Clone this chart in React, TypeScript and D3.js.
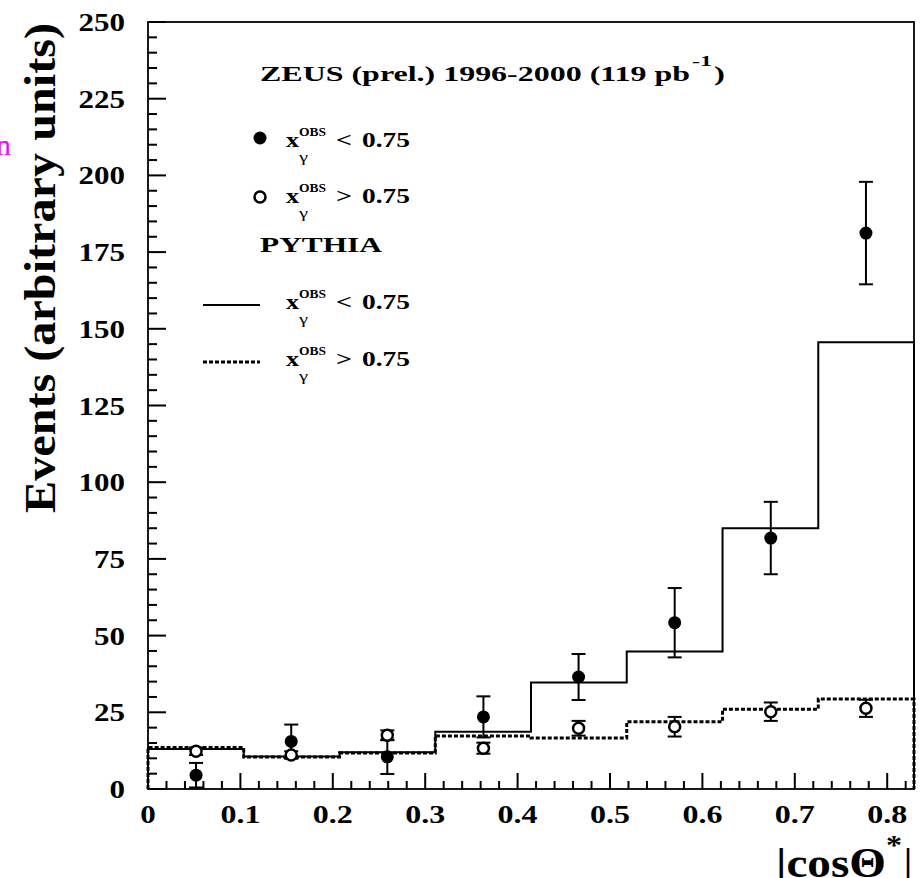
import React from "react";
import * as d3 from "d3";

// ---- data ----
const binEdges = [0, 0.1036, 0.2073, 0.3109, 0.4145, 0.5181, 0.6218, 0.7254, 0.829];
const binCenters = [0.052, 0.155, 0.259, 0.363, 0.466, 0.57, 0.674, 0.777];
const dataLow = [4.5, 15.5, 10.5, 23.5, 36.5, 54.2, 81.8, 181.2];
const dataLowErr = [4, 5.5, 5.6, 6.7, 7.5, 11.3, 11.8, 16.7];
const dataHigh = [12.3, 11.1, 17.5, 13.3, 19.8, 20.3, 25.2, 26.3];
const dataHighErr = [1.2, 1.2, 1.6, 1.8, 2.4, 3.2, 3.0, 2.8];
const pythiaLow = [13, 10.6, 12, 18.7, 34.7, 44.8, 85, 145.6];
const pythiaHigh = [13.5, 10.4, 11.7, 17.3, 16.6, 21.9, 26, 29.3];
const yTicks = [0, 25, 50, 75, 100, 125, 150, 175, 200, 225, 250];
const xTicks = [0, 0.1, 0.2, 0.3, 0.4, 0.5, 0.6, 0.7, 0.8];

const W = 920;
const H = 878;
const L = 148, R = 914, T = 22, B = 789;
const FONT = "Liberation Serif, Times New Roman, Times, serif";

const x = d3.scaleLinear().domain([0, 0.829]).range([L, R]);
const y = d3.scaleLinear().domain([0, 250]).range([B, T]);

function histPath(vals: number[]) {
  const pts: [number, number][] = [[x(binEdges[0]), y(0)]];
  vals.forEach((v, i) => {
    pts.push([x(binEdges[i]), y(v)]);
    pts.push([x(binEdges[i + 1]), y(v)]);
  });
  pts.push([x(binEdges[binEdges.length - 1]), y(0)]);
  return d3.line()(pts) as string;
}

// text with a fixed rendered width
function TL({ x: tx, y: ty, size, w, anchor = "start", children, bold = true, fill = "#000" }: any) {
  return (
    <text
      x={tx}
      y={ty}
      style={{ fontFamily: FONT }}
      fontWeight={bold ? "bold" : "normal"}
      fontSize={size}
      textAnchor={anchor}
      fill={fill}
      textLength={w}
      lengthAdjust="spacingAndGlyphs"
    >
      {children}
    </text>
  );
}

function XObs({ base, sign }: { base: number; sign: string }) {
  return (
    <g>
      <TL x={286} y={base} size={20} w={13}>x</TL>
      <TL x={299} y={base - 11} size={13} w={27}>OBS</TL>
      <TL x={299} y={base + 15} size={14} w={9} bold={false}>γ</TL>
      <TL x={336} y={base} size={22} w={16}>{sign}</TL>
      <TL x={362} y={base} size={22} w={48}>0.75</TL>
    </g>
  );
}

export default function App() {
  const minorY = d3.range(0, 251, 5).filter((v) => v % 25 !== 0);
  const minorX = d3.range(0, 0.83, 0.02).filter((v) => Math.abs(v * 10 - Math.round(v * 10)) > 1e-6);
  return (
    <svg width={W} height={H} style={{ position: "absolute", left: 0, top: 0, background: "#fff" }}>
      <rect x={0} y={0} width={W} height={H} fill="#fff" />
      {/* stray magenta text at left edge */}
      <text x={11} y={155} style={{ fontFamily: FONT }} fontSize={30} fill="#ff00ff" textAnchor="end">n</text>

      {/* histograms */}
      <path d={histPath(pythiaLow)} fill="none" stroke="#000" strokeWidth={2} />
      <path d={histPath(pythiaHigh)} fill="none" stroke="#000" strokeWidth={3} strokeDasharray="4,2" />

      {/* frame */}
      <rect x={L} y={T} width={R - L} height={B - T} fill="none" stroke="#000" strokeWidth={1.8} />

      {/* y ticks */}
      {yTicks.map((v) => (
        <line key={"ym" + v} x1={L} x2={L + 18} y1={y(v)} y2={y(v)} stroke="#000" strokeWidth={2} />
      ))}
      {minorY.map((v) => (
        <line key={"yn" + v} x1={L} x2={L + 9} y1={y(v)} y2={y(v)} stroke="#000" strokeWidth={2} />
      ))}
      {yTicks.map((v) => (
        <TL key={"yl" + v} x={125} y={y(v) + 9} size={25} anchor="end" w={String(v).length * 15.5}>{v}</TL>
      ))}

      {/* x ticks */}
      {xTicks.map((v) => (
        <line key={"xm" + v} x1={x(v)} x2={x(v)} y1={B} y2={B - 16} stroke="#000" strokeWidth={2} />
      ))}
      {minorX.map((v, i) => (
        <line key={"xn" + i} x1={x(v)} x2={x(v)} y1={B} y2={B - 8} stroke="#000" strokeWidth={2} />
      ))}
      {xTicks.map((v) => (
        <TL key={"xl" + v} x={x(v)} y={823} size={26} anchor="middle" w={v === 0 ? 15.5 : 40}>
          {v === 0 ? "0" : d3.format(".1f")(v)}
        </TL>
      ))}

      {/* error bars */}
      {binCenters.map((c, i) => (
        <g key={"eh" + i} stroke="#000" strokeWidth={2}>
          <line x1={x(c)} x2={x(c)} y1={y(dataHigh[i] - dataHighErr[i])} y2={y(dataHigh[i] + dataHighErr[i])} />
          <line x1={x(c) - 7} x2={x(c) + 7} y1={y(dataHigh[i] - dataHighErr[i])} y2={y(dataHigh[i] - dataHighErr[i])} />
          <line x1={x(c) - 7} x2={x(c) + 7} y1={y(dataHigh[i] + dataHighErr[i])} y2={y(dataHigh[i] + dataHighErr[i])} />
        </g>
      ))}
      {binCenters.map((c, i) => (
        <g key={"el" + i} stroke="#000" strokeWidth={2}>
          <line x1={x(c)} x2={x(c)} y1={y(Math.max(0, dataLow[i] - dataLowErr[i]))} y2={y(dataLow[i] + dataLowErr[i])} />
          <line x1={x(c) - 7} x2={x(c) + 7} y1={y(dataLow[i] - dataLowErr[i])} y2={y(dataLow[i] - dataLowErr[i])} />
          <line x1={x(c) - 7} x2={x(c) + 7} y1={y(dataLow[i] + dataLowErr[i])} y2={y(dataLow[i] + dataLowErr[i])} />
        </g>
      ))}
      {/* markers */}
      {binCenters.map((c, i) => (
        <circle key={"mh" + i} cx={x(c)} cy={y(dataHigh[i])} r={5.5} fill="#fff" stroke="#000" strokeWidth={2.5} />
      ))}
      {binCenters.map((c, i) => (
        <circle key={"ml" + i} cx={x(c)} cy={y(dataLow[i])} r={6.5} fill="#000" />
      ))}

      {/* legend */}
      <TL x={260} y={81} size={22} w={430}>ZEUS (prel.) 1996-2000 (119 pb</TL>
      <TL x={692} y={66} size={14} w={20}>-1</TL>
      <TL x={714} y={81} size={22} w={11}>)</TL>
      <circle cx={260} cy={138} r={6.5} fill="#000" />
      <XObs base={147} sign="<" />
      <circle cx={260} cy={197} r={5.5} fill="#fff" stroke="#000" strokeWidth={2.5} />
      <XObs base={203} sign=">" />
      <TL x={260} y={252} size={21} w={122}>PYTHIA</TL>
      <line x1={203} x2={260} y1={305} y2={305} stroke="#000" strokeWidth={2} />
      <XObs base={309} sign="<" />
      <line x1={203} x2={260} y1={362} y2={362} stroke="#000" strokeWidth={3} strokeDasharray="4,2" />
      <XObs base={366} sign=">" />

      {/* axis titles */}
      <text
        transform="translate(55,268) rotate(-90) scale(1,1.24)"
        style={{ fontFamily: FONT }}
        fontWeight="bold"
        fontSize={36}
        textAnchor="middle"
        textLength={490}
        lengthAdjust="spacingAndGlyphs"
      >
        Events (arbitrary units)
      </text>
      <TL x={776} y={877} size={42} w={110}>|cosΘ</TL>
      <TL x={886} y={854} size={28} w={16}>*</TL>
      <TL x={904} y={877} size={42} w={8}>|</TL>
    </svg>
  );
}
